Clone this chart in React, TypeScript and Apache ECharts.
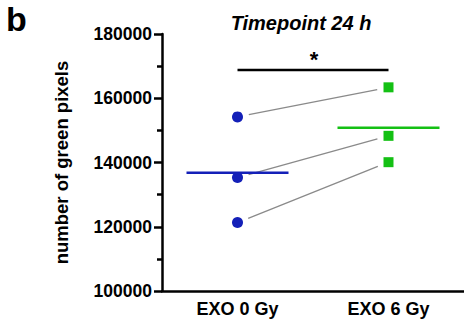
import React, { useEffect, useRef } from "react";
import * as echarts from "echarts";

const categories = ["EXO 0 Gy", "EXO 6 Gy"];
const exo0 = [154200, 135300, 121300];
const exo6 = [163400, 148300, 140100];
const means = [136800, 150800];
const yTicks = { min: 100000, max: 180000, interval: 20000 };
const sigLevel = 168800;
const sigLabel = "*";
const titleText = "Timepoint 24 h";
const panelLabel = "b";
const yName = "number of green pixels";

const BLUE = "#1420b8";
const GREEN = "#14c014";
const FONT = "'Liberation Sans', Arial, Helvetica, sans-serif";

export default function App() {
  const ref = useRef<HTMLDivElement>(null);
  useEffect(() => {
    if (!ref.current) return;
    const chart = echarts.init(ref.current, null, { renderer: "svg" });
    const pairs = exo0.map((v, i) => [v, exo6[i]]);
    chart.setOption({
      animation: false,
      backgroundColor: "#ffffff",
      textStyle: { fontFamily: FONT },
      grid: { left: 162, right: 0, top: 34, bottom: 36, containLabel: false },
      graphic: [
        {
          type: "text",
          left: 6,
          top: 2,
          style: { text: panelLabel, font: `bold 34px ${FONT}`, fill: "#000" },
        },
        {
          type: "text",
          x: 301,
          y: 23,
          style: {
            text: titleText,
            font: `italic bold 20px ${FONT}`,
            fill: "#000",
            align: "center",
            verticalAlign: "middle",
          },
        },
      ],
      xAxis: {
        type: "category",
        data: categories,
        boundaryGap: true,
        axisLine: { lineStyle: { color: "#000", width: 2.5 } },
        axisTick: { alignWithLabel: true, length: 7, lineStyle: { color: "#000", width: 2.5 } },
        axisLabel: { color: "#000", fontWeight: "bold", fontSize: 18, margin: 9, fontFamily: FONT },
        splitLine: { show: false },
      },
      yAxis: {
        type: "value",
        min: yTicks.min,
        max: yTicks.max,
        interval: yTicks.interval,
        name: yName,
        nameLocation: "middle",
        nameGap: 91,
        nameTextStyle: { color: "#000", fontWeight: "bold", fontSize: 18.5, fontFamily: FONT },
        axisLine: { show: true, lineStyle: { color: "#000", width: 2.5 } },
        axisTick: { show: true, length: 8, lineStyle: { color: "#000", width: 2.5 } },
        minorTick: { show: true, splitNumber: 2, length: 5, lineStyle: { color: "#000", width: 2.5 } },
        axisLabel: {
          color: "#000",
          fontWeight: "bold",
          fontSize: 17.5,
          margin: 10,
          fontFamily: FONT,
          formatter: (v: number) => String(v),
        },
        splitLine: { show: false },
      },
      series: [
        {
          type: "custom",
          name: "pairs",
          data: pairs.map((p, i) => [i, p[0], p[1]]),
          encode: { x: -1, y: -1 },
          z: 1,
          renderItem: (params: any, api: any) => {
            const a = api.coord([0, api.value(1)]);
            const b = api.coord([1, api.value(2)]);
            const dx = b[0] - a[0];
            const dy = b[1] - a[1];
            const len = Math.sqrt(dx * dx + dy * dy);
            const g = 11.5;
            const ux = dx / len;
            const uy = dy / len;
            return {
              type: "line",
              shape: { x1: a[0] + ux * g, y1: a[1] + uy * g, x2: b[0] - ux * g, y2: b[1] - uy * g },
              style: { stroke: "#8a8a8a", lineWidth: 1.3 },
            };
          },
        },
        {
          type: "custom",
          name: "means",
          data: means.map((m, i) => [i, m]),
          z: 2,
          renderItem: (params: any, api: any) => {
            const c = api.coord([api.value(0), api.value(1)]);
            const color = params.dataIndex === 0 ? BLUE : GREEN;
            return {
              type: "line",
              shape: { x1: c[0] - 51, y1: c[1], x2: c[0] + 51, y2: c[1] },
              style: { stroke: color, lineWidth: 2.5 },
            };
          },
        },
        {
          type: "custom",
          name: "significance",
          data: [[0, sigLevel]],
          z: 2,
          renderItem: (params: any, api: any) => {
            const a = api.coord([0, api.value(1)]);
            const b = api.coord([1, api.value(1)]);
            return {
              type: "group",
              children: [
                {
                  type: "line",
                  shape: { x1: a[0], y1: a[1], x2: b[0], y2: b[1] },
                  style: { stroke: "#000", lineWidth: 2.5 },
                },
                {
                  type: "text",
                  x: (a[0] + b[0]) / 2 + 1,
                  y: a[1] + 1,
                  style: {
                    text: sigLabel,
                    font: `bold 22px ${FONT}`,
                    fill: "#000",
                    align: "center",
                    verticalAlign: "bottom",
                  },
                },
              ],
            };
          },
        },
        {
          type: "scatter",
          name: "EXO 0 Gy",
          data: exo0.map((v) => [0, v]),
          symbol: "circle",
          symbolSize: 11,
          itemStyle: { color: BLUE, opacity: 1 },
          z: 3,
        },
        {
          type: "scatter",
          name: "EXO 6 Gy",
          data: exo6.map((v) => [1, v]),
          symbol: "rect",
          symbolSize: 10,
          itemStyle: { color: GREEN, opacity: 1 },
          z: 3,
        },
      ],
    });
    return () => chart.dispose();
  }, []);
  return (
    <div
      ref={ref}
      style={{ position: "fixed", left: 0, top: 0, width: 464, height: 327, background: "#fff" }}
    />
  );
}
